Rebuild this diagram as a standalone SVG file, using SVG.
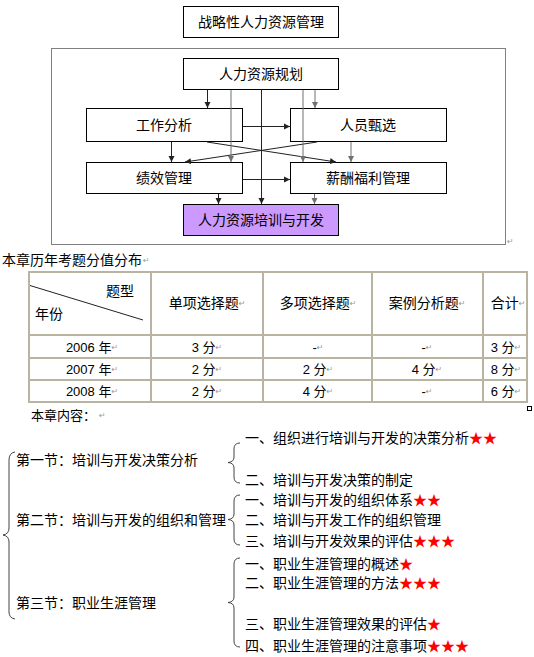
<svg xmlns="http://www.w3.org/2000/svg" width="534" height="657" viewBox="0 0 534 657">
<style>
text{font-family:"Liberation Sans","Noto Sans CJK SC",sans-serif;fill:#000;dominant-baseline:central}
.t14{font-size:14px}
.t13{font-size:13px}
.box{fill:#fff;stroke:#000;stroke-width:1}
.ln{stroke:#222;stroke-width:1;fill:none}
.lg{stroke:#707070;stroke-width:1;fill:none}
.tb{stroke:#B8B4A0;stroke-width:2;fill:none}
.pm{font-family:"DejaVu Sans",sans-serif;font-size:8px;fill:#999}
.br{stroke:#444;stroke-width:1;fill:none}
.st{fill:#FF0000}
</style>
<defs>
<marker id="ah" markerUnits="userSpaceOnUse" markerWidth="7" markerHeight="7" refX="6" refY="3.5" orient="auto">
<path d="M0,0.5 L6,3.5 L0,6.5 Z" fill="#222"/>
</marker>
<marker id="ahg" markerUnits="userSpaceOnUse" markerWidth="7" markerHeight="7" refX="6" refY="3.5" orient="auto">
<path d="M0,0.5 L6,3.5 L0,6.5 Z" fill="#707070"/>
</marker>
</defs>

<g id="title">
<rect class="box" x="183.5" y="6.5" width="155" height="31"/>
<text class="t14" x="261" y="22" text-anchor="middle">战略性人力资源管理</text>
</g>

<rect id="frame" x="51.5" y="48.5" width="454" height="196" fill="none" stroke="#808080" stroke-width="1"/>
<text class="pm" x="507" y="241">↵</text>

<g id="n-plan">
<rect class="box" x="183.5" y="58.5" width="155" height="31"/>
<text class="t14" x="261" y="74" text-anchor="middle">人力资源规划</text>
</g>
<g id="n-job">
<rect class="box" x="86.5" y="108.5" width="156" height="33"/>
<text class="t14" x="164" y="125" text-anchor="middle">工作分析</text>
</g>
<g id="n-select">
<rect class="box" x="290.5" y="108.5" width="156" height="33"/>
<text class="t14" x="368" y="125" text-anchor="middle">人员甄选</text>
</g>
<g id="n-perf">
<rect class="box" x="86.5" y="162.5" width="156" height="31"/>
<text class="t14" x="164" y="178" text-anchor="middle">绩效管理</text>
</g>
<g id="n-pay">
<rect class="box" x="290.5" y="162.5" width="156" height="31"/>
<text class="t14" x="368" y="178" text-anchor="middle">薪酬福利管理</text>
</g>
<g id="n-train">
<rect x="183.5" y="204.5" width="155" height="31" fill="#CC99FF" stroke="#000" stroke-width="1"/>
<text class="t14" x="261" y="220" text-anchor="middle">人力资源培训与开发</text>
</g>

<g id="connectors">
<line class="ln" x1="207.5" y1="90" x2="207.5" y2="108" marker-end="url(#ah)"/>
<line class="ln" x1="261.5" y1="90" x2="261.5" y2="204" marker-end="url(#ah)"/>
<line class="ln" x1="243" y1="126.5" x2="290" y2="126.5" marker-end="url(#ah)"/>
<line class="ln" x1="171.5" y1="142" x2="171.5" y2="162" marker-end="url(#ah)"/>
<line class="ln" x1="207" y1="142" x2="336" y2="162" marker-end="url(#ah)"/>
<line class="ln" x1="317" y1="142" x2="185" y2="162" marker-end="url(#ah)"/>
<line class="ln" x1="243" y1="179.5" x2="290" y2="179.5" marker-end="url(#ah)"/>
<line class="ln" x1="218.5" y1="194" x2="218.5" y2="204" marker-end="url(#ah)"/>
<line class="lg" x1="231" y1="90" x2="231" y2="162" marker-end="url(#ahg)"/>
<line class="lg" x1="303" y1="90" x2="303" y2="162" marker-end="url(#ahg)"/>
<line class="lg" x1="315" y1="90" x2="315" y2="108" marker-end="url(#ahg)"/>
<line class="lg" x1="351" y1="142" x2="351" y2="162" marker-end="url(#ahg)"/>
<line class="lg" x1="314.5" y1="194" x2="314.5" y2="204" marker-end="url(#ahg)"/>
</g>

<g id="table">
<text class="t14" x="2" y="260">本章历年考题分值分布<tspan class="pm" dx="1">↵</tspan></text>
<rect class="tb" x="29" y="272" width="498" height="130"/>
<line class="tb" x1="29" y1="335" x2="527" y2="335"/>
<line class="tb" x1="29" y1="358" x2="527" y2="358"/>
<line class="tb" x1="29" y1="380" x2="527" y2="380"/>
<line class="tb" x1="151" y1="272" x2="151" y2="402"/>
<line class="tb" x1="263" y1="272" x2="263" y2="402"/>
<line class="tb" x1="372" y1="272" x2="372" y2="402"/>
<line class="tb" x1="483" y1="272" x2="483" y2="402"/>
<line x1="30" y1="285.5" x2="143" y2="320" stroke="#222" stroke-width="1"/>
<text class="t14" x="106" y="291">题型</text>
<text class="t14" x="35" y="314">年份</text>
<text class="t14" x="207" y="303" text-anchor="middle">单项选择题<tspan class="pm">↵</tspan></text>
<text class="t14" x="318" y="303" text-anchor="middle">多项选择题<tspan class="pm">↵</tspan></text>
<text class="t14" x="427" y="303" text-anchor="middle">案例分析题<tspan class="pm">↵</tspan></text>
<text class="t14" x="508" y="303" text-anchor="middle">合计<tspan class="pm">↵</tspan></text>
<text class="t13" x="92" y="347" text-anchor="middle">2006 年<tspan class="pm">↵</tspan></text>
<text class="t13" x="207" y="347" text-anchor="middle">3 分<tspan class="pm">↵</tspan></text>
<text class="t13" x="318" y="347" text-anchor="middle">-<tspan class="pm">↵</tspan></text>
<text class="t13" x="427" y="347" text-anchor="middle">-<tspan class="pm">↵</tspan></text>
<text class="t13" x="506" y="347" text-anchor="middle">3 分<tspan class="pm">↵</tspan></text>
<text class="t13" x="92" y="369" text-anchor="middle">2007 年<tspan class="pm">↵</tspan></text>
<text class="t13" x="207" y="369" text-anchor="middle">2 分<tspan class="pm">↵</tspan></text>
<text class="t13" x="318" y="369" text-anchor="middle">2 分<tspan class="pm">↵</tspan></text>
<text class="t13" x="427" y="369" text-anchor="middle">4 分<tspan class="pm">↵</tspan></text>
<text class="t13" x="506" y="369" text-anchor="middle">8 分<tspan class="pm">↵</tspan></text>
<text class="t13" x="92" y="391" text-anchor="middle">2008 年<tspan class="pm">↵</tspan></text>
<text class="t13" x="207" y="391" text-anchor="middle">2 分<tspan class="pm">↵</tspan></text>
<text class="t13" x="318" y="391" text-anchor="middle">4 分<tspan class="pm">↵</tspan></text>
<text class="t13" x="427" y="391" text-anchor="middle">-<tspan class="pm">↵</tspan></text>
<text class="t13" x="506" y="391" text-anchor="middle">6 分<tspan class="pm">↵</tspan></text>
<rect x="527.5" y="406.5" width="4" height="4" fill="#fff" stroke="#000" stroke-width="1"/>
</g>

<g id="contents">
<text class="t13" x="31" y="415">本章内容：<tspan class="pm" dx="3">↵</tspan></text>

<path class="br" d="M15,452 Q9,453 9,460 L9,528 Q9,534 3,535 Q9,536 9,542 L9,612 Q9,618 15,619"/>
<text class="t14" x="16" y="460">第一节：培训与开发决策分析</text>
<text class="t14" x="16" y="520">第二节：培训与开发的组织和管理</text>
<text class="t14" x="16" y="603">第三节：职业生涯管理</text>

<path class="br" d="M240,443 Q234,443 234,449 L234,457 Q234,462 228,462.5 Q234,463 234,468 L234,477 Q234,483 240,483"/>
<path class="br" d="M240,495 Q234,495 234,501 L234,514 Q234,519 228,519.5 Q234,520 234,525 L234,539 Q234,545 240,545"/>
<path class="br" d="M240,558 Q234,558 234,564 L234,597 Q234,602 228,602.5 Q234,603 234,608 L234,641 Q234,647 240,647"/>

<text class="t14" x="245" y="438">一、组织进行培训与开发的决策分析<tspan class="st">★★</tspan></text>
<text class="t14" x="245" y="480">二、培训与开发决策的制定</text>
<text class="t14" x="245" y="500">一、培训与开发的组织体系<tspan class="st">★★</tspan></text>
<text class="t14" x="245" y="520">二、培训与开发工作的组织管理</text>
<text class="t14" x="245" y="541">三、培训与开发效果的评估<tspan class="st">★★★</tspan></text>
<text class="t14" x="245" y="564">一、职业生涯管理的概述<tspan class="st">★</tspan></text>
<text class="t14" x="245" y="583">二、职业生涯管理的方法<tspan class="st">★★★</tspan></text>
<text class="t14" x="245" y="624">三、职业生涯管理效果的评估<tspan class="st">★</tspan></text>
<text class="t14" x="245" y="646">四、职业生涯管理的注意事项<tspan class="st">★★★</tspan></text>
</g>
</svg>
